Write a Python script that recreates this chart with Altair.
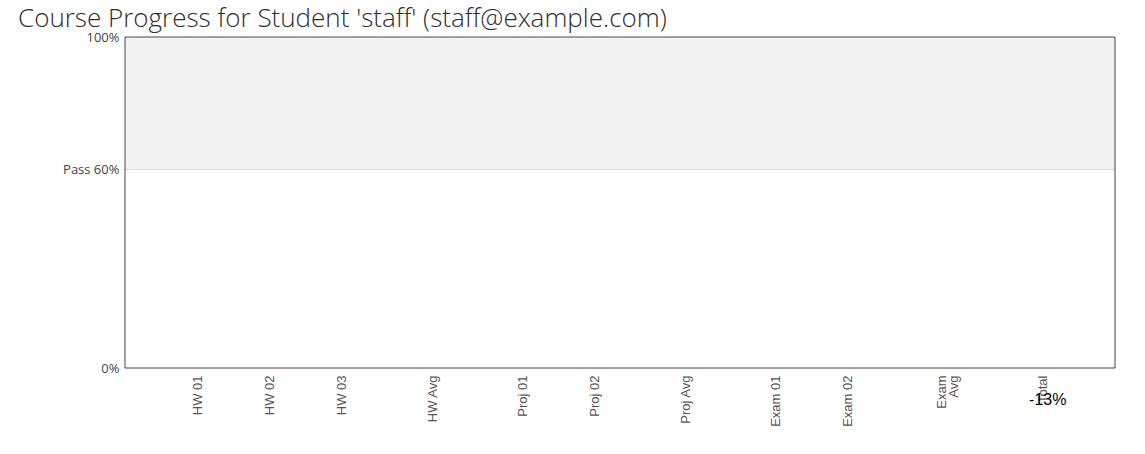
import altair as alt
import pandas as pd

# ---- data ----
categories = ["HW 01", "HW 02", "HW 03", "HW Avg", "Proj 01", "Proj 02",
              "Proj Avg", "Exam 01", "Exam 02", "Exam Avg", "Total"]
scores = [None, None, None, None, None, None, None, None, None, None, -0.13]
value_labels = [None, None, None, None, None, None, None, None, None, None, "-13%"]
y_ticks = [0.0, 0.6, 1.0]
y_tick_labels = ["0%", "Pass 60%", "100%"]
pass_mark = 0.6

# layout: spacing before each category (in step units)
gaps = [1, 1, 1, 1.25, 1.25, 1, 1.25, 1.25, 1, 1.3, 1.4]
pos = []
acc = 0.0
for g in gaps:
    acc += g
    pos.append(acc)
x_max = acc + 1.0

df = pd.DataFrame({"cat": categories, "pos": pos, "score": scores, "lbl": value_labels})

x_label_expr = " : ".join(
    [f"abs(datum.value - {p}) < 0.01 ? {repr(c) if c != 'Exam Avg' else repr(['Exam', 'Avg'])}"
     for p, c in zip(pos, categories)] + ["''"]
)
y_label_expr = " : ".join(
    [f"abs(datum.value - {v}) < 0.001 ? '{t}'" for v, t in zip(y_ticks, y_tick_labels)] + ["''"]
)

x_scale = alt.Scale(domain=[0, x_max], nice=False, zero=False, padding=0)
y_scale = alt.Scale(domain=[0, 1], nice=False, zero=False, padding=0)

x_axis = alt.Axis(values=pos, labelExpr=x_label_expr, labelAngle=-90, ticks=False,
                  domain=False, grid=False, title=None, labelFont="Liberation Sans",
                  labelFontSize=13, labelColor="#555555", labelPadding=7,
                  labelAlign="right", labelBaseline="middle", labelLineHeight=12,
                  labelOverlap=False, labelFlush=False)
y_axis = alt.Axis(values=y_ticks, labelExpr=y_label_expr, ticks=False, domain=False,
                  grid=False, title=None, labelFont="Open Sans",
                  labelFontSize=13, labelColor="#444444", labelPadding=6,
                  labelFlush=False, labelOverlap=False)

band_df = pd.DataFrame({"a": [pass_mark], "b": [1.0]})

band = alt.Chart(band_df).mark_rect(color="#f2f2f2").encode(
    x=alt.datum(0, scale=x_scale),
    x2=alt.datum(x_max),
    y=alt.Y("a:Q", scale=y_scale, axis=y_axis),
    y2="b:Q",
)

pass_line = alt.Chart(band_df).mark_rule(color="#d9d9d9", strokeWidth=1).encode(
    x=alt.datum(0),
    x2=alt.datum(x_max),
    y=alt.Y("a:Q"),
)

base = alt.Chart(df)

bars = base.mark_bar(clip=True, color="#4a90d9", size=40).encode(
    x=alt.X("pos:Q", scale=x_scale, axis=x_axis),
    y=alt.Y("score:Q", scale=y_scale),
    y2=alt.datum(0),
)

border = alt.Chart(pd.DataFrame({"lo": [0.0], "hi": [1.0]})).mark_rect(
    filled=False, stroke="#444444", strokeWidth=1, fill=None
).encode(
    x=alt.datum(0),
    x2=alt.datum(x_max),
    y=alt.Y("lo:Q"),
    y2="hi:Q",
)

texts = base.mark_text(font="Liberation Sans", fontSize=16, color="#000000",
                       baseline="alphabetic", align="center", dy=-6, dx=5).encode(
    x=alt.X("pos:Q"),
    y=alt.Y("score:Q"),
    text="lbl:N",
)

chart = alt.layer(band, pass_line, bars, border, texts).properties(
    width=990,
    height=331,
    padding={"left": 125, "top": 37, "right": 30, "bottom": 86},
    autosize=alt.AutoSizeParams(type="none"),
    title=alt.TitleParams(
        "Course Progress for Student 'staff' (staff@example.com)",
        anchor="start", frame="group", dx=-107, dy=30, offset=8, font="Open Sans",
        fontSize=26, fontWeight=300, color="#2e2e2e", baseline="alphabetic",
    ),
).configure_view(stroke=None)

chart.save("out.html", embed_options={"renderer": "svg", "actions": False})
